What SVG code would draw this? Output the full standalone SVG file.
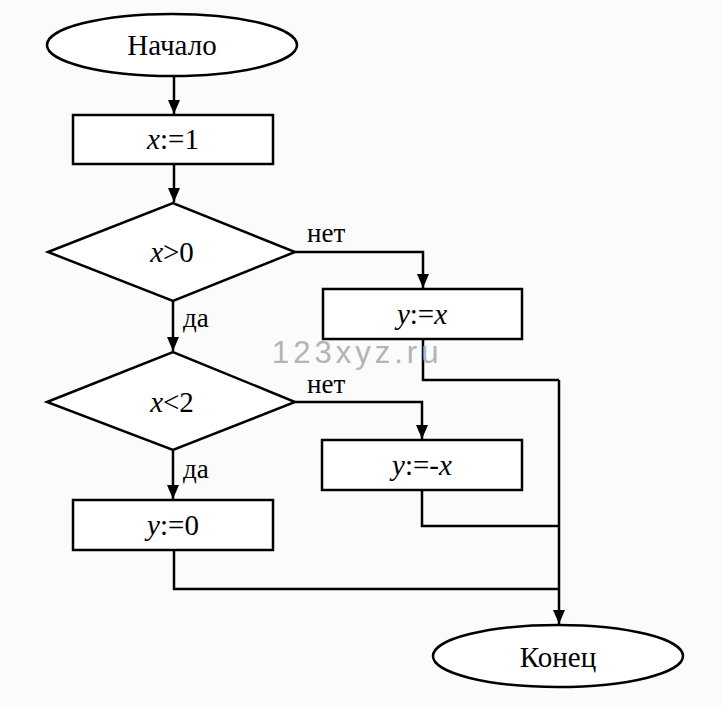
<svg xmlns="http://www.w3.org/2000/svg" width="722" height="708" viewBox="0 0 722 708">
<defs>
<marker id="ah" markerWidth="14" markerHeight="12" refX="14" refY="6" orient="auto" markerUnits="userSpaceOnUse" viewBox="0 0 14 12">
<path d="M0,0 L14,6 L0,12 Z" fill="#000"/>
</marker>
</defs>
<style>
.s{fill:#fff;stroke:#000;stroke-width:2.5}
.c{fill:none;stroke:#000;stroke-width:2.5}
.t{font-size:29px;fill:#000;text-anchor:middle}
.l{font-size:27px;fill:#000}
.wm{font-size:31px;fill:#b4b4b4;letter-spacing:4px}
</style>
<rect width="722" height="708" fill="#fbfbfb"/>
<g id="connectors">
<path class="c" d="M174,77 V114" marker-end="url(#ah)"/>
<path class="c" d="M174,164 V202" marker-end="url(#ah)"/>
<path class="c" d="M295,252 H423 V288" marker-end="url(#ah)"/>
<path class="c" d="M173,301 V351" marker-end="url(#ah)"/>
<path class="c" d="M295,402 H422 V439" marker-end="url(#ah)"/>
<path class="c" d="M173,450 V499" marker-end="url(#ah)"/>
<path class="c" d="M423,339 V380 H559"/>
<path class="c" d="M422,490 V526 H559"/>
<path class="c" d="M174,550 V589 H559"/>
<path class="c" d="M559,380 V624" marker-end="url(#ah)"/>
</g>
<g font-family="Liberation Serif, Tinos, Times New Roman, DejaVu Serif, serif">
<g id="start"><ellipse class="s" cx="172" cy="45" rx="125" ry="31"/><text class="t" x="172" y="55">Начало</text></g>
<g id="assign_x"><rect class="s" x="73" y="115" width="200" height="49"/><text class="t" x="173" y="149"><tspan font-style="italic">x</tspan>:=1</text></g>
<g id="cond1"><polygon class="s" points="48,252 173,203 295,252 173,301"/><text class="t" x="172" y="262"><tspan font-style="italic">x</tspan>&gt;0</text></g>
<g id="assign_y_x"><rect class="s" x="323" y="289" width="199" height="50"/><text class="t" x="422" y="324"><tspan font-style="italic">y</tspan>:=<tspan font-style="italic">x</tspan></text></g>
<g id="cond2"><polygon class="s" points="47,402 173,352 295,402 173,450"/><text class="t" x="172" y="412"><tspan font-style="italic">x</tspan>&lt;2</text></g>
<g id="assign_y_negx"><rect class="s" x="322" y="440" width="200" height="50"/><text class="t" x="422" y="475"><tspan font-style="italic">y</tspan>:=-<tspan font-style="italic">x</tspan></text></g>
<g id="assign_y0"><rect class="s" x="73" y="500" width="200" height="50"/><text class="t" x="173" y="535"><tspan font-style="italic">y</tspan>:=0</text></g>
<g id="end"><ellipse class="s" cx="558" cy="656" rx="125" ry="31"/><text class="t" x="558" y="667">Конец</text></g>
<g id="labels">
<text class="l" x="307" y="242">нет</text>
<text class="l" x="183" y="327">да</text>
<text class="l" x="307" y="393">нет</text>
<text class="l" x="183" y="478">да</text>
</g>
</g>
<text class="wm" x="272" y="363" font-family="Liberation Sans, Arial, sans-serif">123xyz.ru</text>
</svg>
